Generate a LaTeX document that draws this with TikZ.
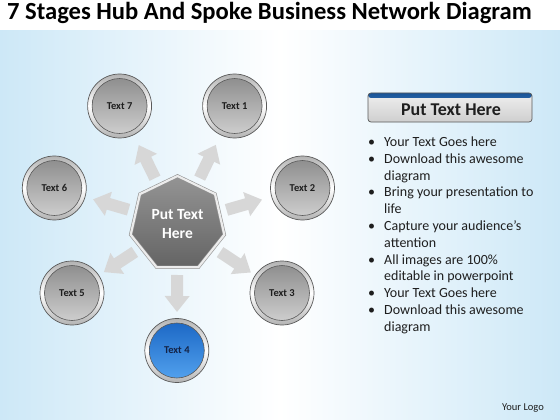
\documentclass[tikz,border=0pt]{standalone}
\usepackage{fontspec}
\setmainfont{Carlito}
\usetikzlibrary{shapes.geometric,arrows.meta,calc}
\definecolor{bgblue}{RGB}{205,232,247}
\definecolor{ringdark}{RGB}{90,90,90}
\definecolor{innertop}{RGB}{138,138,138}
\definecolor{innerbot}{RGB}{210,210,210}
\definecolor{bluetop}{RGB}{25,100,195}
\definecolor{bluebot}{RGB}{85,165,240}
\definecolor{hubtop}{RGB}{148,148,148}
\definecolor{hubbot}{RGB}{100,100,100}
\definecolor{arrowgray}{RGB}{215,215,215}
\definecolor{hdrblue}{RGB}{30,105,190}
\definecolor{txtdark}{RGB}{30,30,30}
\tikzset{
  ball/.style={circle, minimum size=64pt, inner sep=0pt, draw=ringdark, line width=0.7pt,
    top color=gray!60, bottom color=gray!60, middle color=white,
    font=\bfseries\fontsize{10.5}{12}\selectfont, text=txtdark,
    path picture={\shade[top color=#1top, bottom color=#1bot, draw=ringdark, line width=0.6pt]
      (path picture bounding box.center) circle (27.5pt);}},
  ball/.default=inner,
  spoke/.style={line width=12pt, arrowgray, -{Triangle[width=24pt,length=16pt]}},
  hubstyle/.style={regular polygon, regular polygon sides=7, minimum size=96pt, inner sep=0pt,
    top color=hubtop, bottom color=hubbot, draw=gray!85, line width=0.6pt,
    double=gray!15, double distance=2.2pt,
    text=white, font=\bfseries\fontsize{15.5}{19}\selectfont, align=center},
  bullettext/.style={anchor=base west, font=\fontsize{14}{16}\selectfont, text=txtdark, inner sep=0pt}
}
\begin{document}
\begin{tikzpicture}[x=1pt,y=-1pt]
\useasboundingbox (0,0) rectangle (560,420);
% background
\shade[left color=bgblue, right color=bgblue, middle color=white] (0,0) rectangle (560,420);
\fill[white] (0,0) rectangle (560,30);
% title
\node[anchor=base west, inner sep=0pt, font=\bfseries\fontsize{24.6}{28}\selectfont, text=black] (title) at (7,19.5) {7 Stages Hub And Spoke Business Network Diagram};
% hub and satellites
\node[hubstyle] (hub) at (177.5,224) {Put Text\\Here};
\node[ball] (t1) at (234.6,106) {Text 1};
\node[ball] (t2) at (302.5,188) {Text 2};
\node[ball] (t3) at (282,293) {Text 3};
\node[ball=blue, text={rgb,255:red,20;green,35;blue,70}] (t4) at (176.8,350.5) {Text 4};
\node[ball] (t5) at (72,293) {Text 5};
\node[ball] (t6) at (54.3,188) {Text 6};
\node[ball] (t7) at (119.6,106) {Text 7};
% spokes
\foreach \t in {t1,t2,t3,t4,t5,t6,t7}{
  \draw[spoke] ($(hub.center)!51pt!(\t.center)$) -- ($(hub.center)!88pt!(\t.center)$);
}
% header box
\node[minimum width=164pt, minimum height=29pt, rounded corners=3pt, inner sep=0pt,
  top color=gray!12, bottom color=gray!38, draw=gray!70!black, line width=0.7pt,
  path picture={\shade[top color=hdrblue!80!black, bottom color=hdrblue!70!white]
    (path picture bounding box.north west) rectangle ([yshift=-5pt]path picture bounding box.north east);}]
  (hdr) at (450,107.5) {};
\node[font=\bfseries\fontsize{18}{20}\selectfont, text=txtdark, inner sep=0pt] (hdrtext) at (451,110) {Put Text Here};
% bullet list
\foreach \i/\b/\s in {0/1/Your Text Goes here,1/1/Download this awesome,2/0/diagram,
  3/1/Bring your presentation to,4/0/life,5/1/Capture your audience’s,6/0/attention,
  7/1/All images are 100\%,8/0/editable in powerpoint,9/1/Your Text Goes here,
  10/1/Download this awesome,11/0/diagram}{
  \node[bullettext] (l\i) at (384,146.5+16.8*\i) {\s};
  \ifnum\b=1 \node[bullettext] (b\i) at (368,146.5+16.8*\i) {•};\fi
}
% logo
\node[font=\fontsize{10.5}{12}\selectfont, text=txtdark, inner sep=0pt] (logo) at (523,408) {Your Logo};
\end{tikzpicture}
\end{document}
